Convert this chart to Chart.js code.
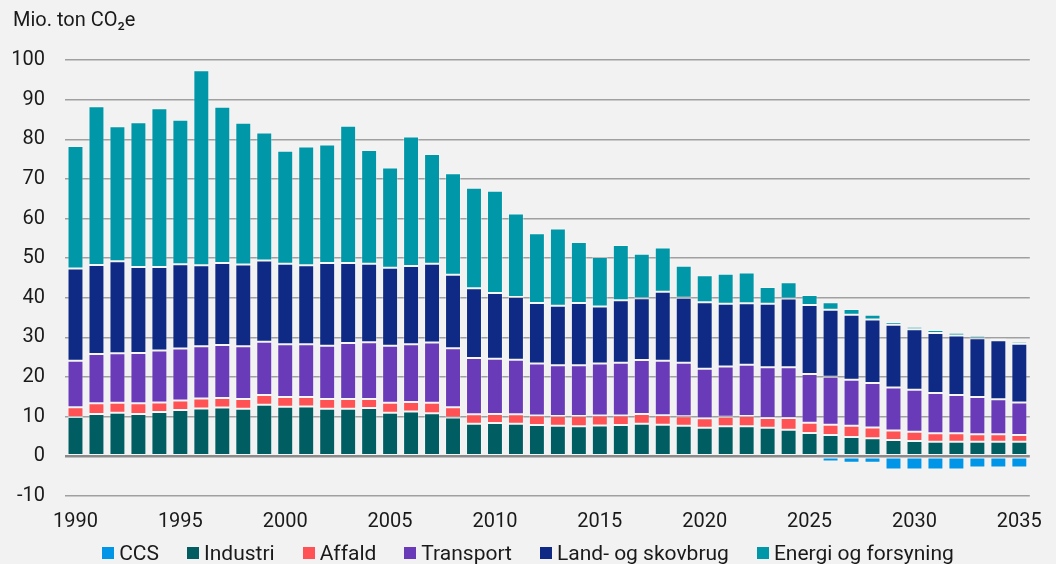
<!DOCTYPE html>
<html>
<head>
<meta charset="utf-8">
<script src="https://cdn.jsdelivr.net/npm/chart.js@4/dist/chart.umd.min.js"></script>
<style>
    html, body { margin: 0; padding: 0; background: #f2f2f2; }
    #wrap { position: relative; width: 1056px; height: 564px; }
    #legend {
        position: absolute; left: 0; right: 0; top: 541px; height: 24px;
        display: flex; justify-content: center; align-items: center;
        font-family: Roboto, sans-serif; font-size: 21px; color: #1a1a1a;
    }
    .item { display: flex; align-items: center; margin: 0 14px; white-space: nowrap; }
    .box { width: 12px; height: 12px; margin-right: 5px; }
</style>
</head>
<body>
<div id="wrap">
    <canvas id="chart" width="1056" height="564"></canvas>
    <div id="legend"></div>
</div>
<script>
// Emissions by sector, mio. ton CO2e
const years = [
    '1990', '1991', '1992', '1993', '1994', '1995', '1996', '1997', '1998', '1999',
    '2000', '2001', '2002', '2003', '2004', '2005', '2006', '2007', '2008', '2009',
    '2010', '2011', '2012', '2013', '2014', '2015', '2016', '2017', '2018', '2019',
    '2020', '2021', '2022', '2023', '2024', '2025', '2026', '2027', '2028', '2029',
    '2030', '2031', '2032', '2033', '2034', '2035'
];

const ccs = [
    null, null, null, null, null, null, null, null, null, null,
    null, null, null, null, null, null, null, null, null, null,
    null, null, null, null, null, null, null, null, null, null,
    null, null, null, null, null, -0.7, -1.3, -1.6, -1.6, -3.3,
    -3.3, -3.3, -3.3, -2.8, -2.8, -2.8
];
const industri = [
    9.9, 10.7, 11.0, 10.7, 11.2, 11.7, 12.1, 12.3, 12.0, 13.0,
    12.5, 12.6, 12.0, 12.0, 12.2, 11.0, 11.3, 10.9, 9.8, 8.2,
    8.4, 8.2, 7.9, 7.7, 7.6, 7.8, 7.9, 8.2, 8.0, 7.7,
    7.2, 7.6, 7.6, 7.2, 6.7, 5.9, 5.4, 4.9, 4.6, 4.1,
    3.9, 3.7, 3.7, 3.7, 3.7, 3.7
];
const affald = [
    2.5, 2.7, 2.5, 2.7, 2.4, 2.4, 2.5, 2.4, 2.5, 2.5,
    2.5, 2.4, 2.5, 2.5, 2.3, 2.5, 2.4, 2.6, 2.6, 2.4,
    2.3, 2.4, 2.4, 2.5, 2.6, 2.5, 2.4, 2.5, 2.4, 2.4,
    2.4, 2.4, 2.6, 2.5, 3.0, 2.6, 2.6, 2.8, 2.7, 2.4,
    2.3, 2.1, 2.1, 1.9, 1.9, 1.7
];
const transport = [
    11.7, 12.4, 12.5, 12.7, 13.1, 13.1, 13.2, 13.4, 13.3, 13.4,
    13.3, 13.3, 13.4, 14.1, 14.3, 14.4, 14.6, 15.2, 14.9, 14.2,
    13.9, 13.8, 13.1, 12.8, 12.8, 13.1, 13.3, 13.6, 13.7, 13.5,
    12.5, 12.7, 12.9, 12.8, 12.8, 12.3, 12.1, 11.6, 11.2, 10.9,
    10.6, 10.2, 9.7, 9.4, 8.8, 8.2
];
const landbrug = [
    23.3, 22.5, 23.2, 21.7, 21.1, 21.3, 20.4, 20.7, 20.6, 20.5,
    20.3, 19.9, 20.9, 20.2, 19.8, 19.7, 19.7, 19.9, 18.5, 17.6,
    16.6, 15.8, 15.3, 15.0, 15.7, 14.4, 15.8, 15.6, 17.4, 16.4,
    16.8, 15.8, 15.5, 16.0, 17.3, 17.4, 16.9, 16.4, 16.0, 15.8,
    15.3, 15.1, 15.0, 14.8, 14.9, 14.8
];
const energi = [
    30.9, 40.0, 34.1, 36.5, 40.0, 36.4, 49.2, 39.4, 35.8, 32.3,
    28.5, 30.0, 29.9, 34.6, 28.7, 25.3, 32.7, 27.7, 25.6, 25.4,
    25.8, 21.1, 17.6, 19.5, 15.4, 12.5, 13.9, 11.2, 11.2, 8.1,
    6.8, 7.6, 7.8, 4.2, 4.1, 2.5, 1.9, 1.5, 1.2, 0.7,
    0.6, 0.8, 0.7, 0.6, 0.5, 0.6
];

const seriesLabels = ['CCS', 'Industri', 'Affald', 'Transport', 'Land- og skovbrug', 'Energi og forsyning'];
const seriesData = [ccs, industri, affald, transport, landbrug, energi];
const seriesColors = ['#0095e6', '#005e62', '#ff5254', '#6a3bb8', '#0e2a85', '#0098a8'];

const FONT = 'Roboto, sans-serif';

const datasets = seriesLabels.map((label, i) => ({
    label: label,
    data: seriesData[i],
    backgroundColor: seriesColors[i],
    borderColor: 'rgba(255, 255, 255, 0.3)',
    borderWidth: 1,
    borderSkipped: false,
    barPercentage: 0.76,
    categoryPercentage: 1
}));

new Chart(document.getElementById('chart'), {
    type: 'bar',
    data: { labels: years, datasets: datasets },
    options: {
        responsive: false,
        animation: false,
        layout: { padding: { left: 13, right: 17, top: 0, bottom: 16 } },
        plugins: {
            legend: { display: false },
            tooltip: { enabled: false },
            title: {
                display: true,
                text: 'Mio. ton CO₂e',
                align: 'start',
                color: '#1a1a1a',
                font: { family: FONT, size: 20, weight: 'normal' },
                padding: { top: 9, bottom: 27 }
            }
        },
        scales: {
            x: {
                stacked: true,
                grid: { display: false, drawTicks: false },
                border: { display: false },
                ticks: {
                    autoSkip: false,
                    maxRotation: 0,
                    padding: 14,
                    color: '#1a1a1a',
                    font: { family: FONT, size: 20 },
                    callback: function(value) {
                        const year = this.getLabelForValue(value);
                        return Number(year) % 5 === 0 ? year : null;
                    }
                }
            },
            y: {
                stacked: true,
                min: -10,
                max: 100,
                afterFit: axis => { axis.width = 52; },
                border: { display: false },
                grid: {
                    drawTicks: false,
                    color: ctx => ctx.tick && ctx.tick.value === 0 ? '#8a8a8a' : '#a0a0a0',
                    lineWidth: ctx => ctx.tick && ctx.tick.value === 0 ? 2.5 : 1.5
                },
                ticks: {
                    stepSize: 10,
                    padding: 20,
                    color: '#1a1a1a',
                    font: { family: FONT, size: 20 }
                }
            }
        }
    }
});

// Legend drawn as html so spacing matches the original
const legend = document.getElementById('legend');
legend.innerHTML = seriesLabels.map((label, i) =>
    `<div class="item"><span class="box" style="background:${seriesColors[i]}"></span>${label}</div>`
).join('');
</script>
</body>
</html>
